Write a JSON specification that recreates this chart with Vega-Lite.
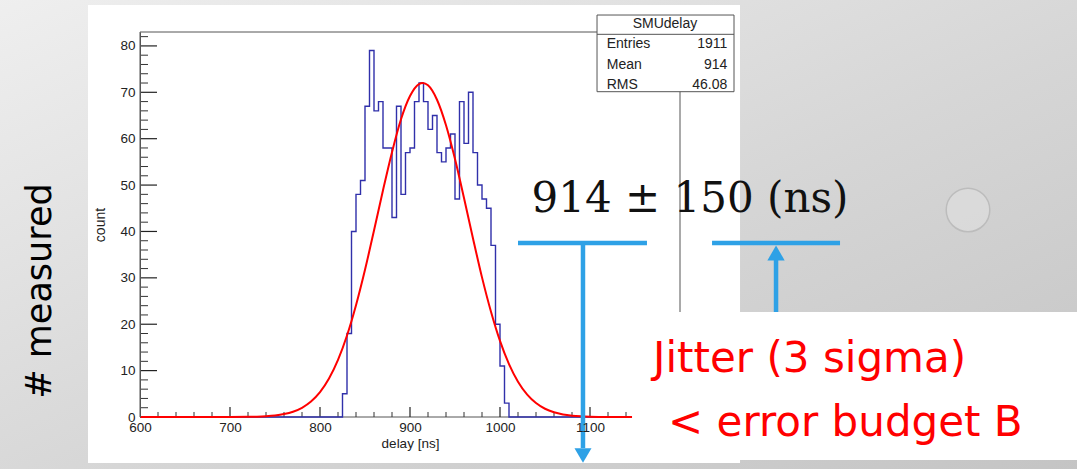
{
  "$schema": "https://vega.github.io/schema/vega-lite/v6.json",
  "width": 540,
  "height": 385,
  "autosize": {"type": "none"},
  "padding": {"left": 140, "top": 32, "right": 397, "bottom": 52},
  "background": "#d8d8d8",
  "config": {"view": {"stroke": null}},
  "datasets": {
    "hist": [
      {"delay": 600, "count": 0},
      {"delay": 825, "count": 5},
      {"delay": 830, "count": 18},
      {"delay": 835, "count": 40},
      {"delay": 840, "count": 48},
      {"delay": 845, "count": 51},
      {"delay": 850, "count": 67},
      {"delay": 855, "count": 79},
      {"delay": 860, "count": 66},
      {"delay": 865, "count": 68},
      {"delay": 870, "count": 58},
      {"delay": 875, "count": 58},
      {"delay": 880, "count": 43},
      {"delay": 885, "count": 67},
      {"delay": 890, "count": 48},
      {"delay": 895, "count": 57},
      {"delay": 900, "count": 58},
      {"delay": 905, "count": 68},
      {"delay": 910, "count": 72},
      {"delay": 915, "count": 68},
      {"delay": 920, "count": 62},
      {"delay": 925, "count": 65},
      {"delay": 930, "count": 57},
      {"delay": 935, "count": 55},
      {"delay": 940, "count": 58},
      {"delay": 945, "count": 61},
      {"delay": 950, "count": 47},
      {"delay": 955, "count": 68},
      {"delay": 960, "count": 59},
      {"delay": 965, "count": 70},
      {"delay": 970, "count": 57},
      {"delay": 975, "count": 50},
      {"delay": 980, "count": 47},
      {"delay": 985, "count": 45},
      {"delay": 990, "count": 37},
      {"delay": 995, "count": 20},
      {"delay": 1000, "count": 11},
      {"delay": 1005, "count": 3},
      {"delay": 1010, "count": 0},
      {"delay": 1200, "count": 0}
    ],
    "fit": [
      {"delay": 600, "fit": 0},
      {"delay": 650, "fit": 0},
      {"delay": 700, "fit": 0.01},
      {"delay": 720, "fit": 0.04},
      {"delay": 730, "fit": 0.08},
      {"delay": 740, "fit": 0.17},
      {"delay": 750, "fit": 0.33},
      {"delay": 760, "fit": 0.63},
      {"delay": 770, "fit": 1.14},
      {"delay": 780, "fit": 1.99},
      {"delay": 790, "fit": 3.33},
      {"delay": 800, "fit": 5.35},
      {"delay": 810, "fit": 8.28},
      {"delay": 820, "fit": 12.3},
      {"delay": 830, "fit": 17.56},
      {"delay": 840, "fit": 24.1},
      {"delay": 850, "fit": 31.74},
      {"delay": 860, "fit": 40.2},
      {"delay": 870, "fit": 48.9},
      {"delay": 880, "fit": 57.1},
      {"delay": 890, "fit": 64.2},
      {"delay": 900, "fit": 69.2},
      {"delay": 910, "fit": 71.77},
      {"delay": 914, "fit": 72},
      {"delay": 920, "fit": 71.5},
      {"delay": 930, "fit": 68.4},
      {"delay": 940, "fit": 62.9},
      {"delay": 950, "fit": 55.6},
      {"delay": 960, "fit": 47.2},
      {"delay": 970, "fit": 38.5},
      {"delay": 980, "fit": 30.1},
      {"delay": 990, "fit": 22.7},
      {"delay": 1000, "fit": 16.4},
      {"delay": 1010, "fit": 11.4},
      {"delay": 1020, "fit": 7.61},
      {"delay": 1030, "fit": 4.88},
      {"delay": 1040, "fit": 3.01},
      {"delay": 1050, "fit": 1.78},
      {"delay": 1060, "fit": 1.01},
      {"delay": 1070, "fit": 0.55},
      {"delay": 1080, "fit": 0.29},
      {"delay": 1090, "fit": 0.15},
      {"delay": 1100, "fit": 0.07},
      {"delay": 1120, "fit": 0.01},
      {"delay": 1150, "fit": 0},
      {"delay": 1200, "fit": 0}
    ],
    "xminor": [
      {"v": 620}, {"v": 640}, {"v": 660}, {"v": 680},
      {"v": 720}, {"v": 740}, {"v": 760}, {"v": 780},
      {"v": 820}, {"v": 840}, {"v": 860}, {"v": 880},
      {"v": 920}, {"v": 940}, {"v": 960}, {"v": 980},
      {"v": 1020}, {"v": 1040}, {"v": 1060}, {"v": 1080},
      {"v": 1120}, {"v": 1140}
    ],
    "xmajor": [
      {"v": 700}, {"v": 800}, {"v": 900}, {"v": 1000}, {"v": 1100}
    ],
    "yminor": [
      {"v": 2}, {"v": 4}, {"v": 6}, {"v": 8},
      {"v": 12}, {"v": 14}, {"v": 16}, {"v": 18},
      {"v": 22}, {"v": 24}, {"v": 26}, {"v": 28},
      {"v": 32}, {"v": 34}, {"v": 36}, {"v": 38},
      {"v": 42}, {"v": 44}, {"v": 46}, {"v": 48},
      {"v": 52}, {"v": 54}, {"v": 56}, {"v": 58},
      {"v": 62}, {"v": 64}, {"v": 66}, {"v": 68},
      {"v": 72}, {"v": 74}, {"v": 76}, {"v": 78},
      {"v": 82}
    ],
    "ymajor": [
      {"v": 10}, {"v": 20}, {"v": 30}, {"v": 40}, {"v": 50}, {"v": 60}, {"v": 70}, {"v": 80}
    ],
    "one": [{}]
  },
  "layer": [
    {
      "data": {"name": "one"},
      "mark": {"type": "rect", "fill": {"gradient": "linear", "x1": 0, "y1": 0, "x2": 1, "y2": 1, "stops": [{"offset": 0, "color": "#efefef"}, {"offset": 0.55, "color": "#d6d6d6"}, {"offset": 1, "color": "#c4c4c4"}]}},
      "encoding": {
        "x": {"datum": 440, "type": "quantitative", "scale": {"domain": [600, 1200], "nice": false, "zero": false}},
        "x2": {"datum": 1650},
        "y": {"datum": 91, "type": "quantitative", "scale": {"domain": [0, 83], "nice": false, "zero": false}},
        "y2": {"datum": -12}
      }
    },
    {
      "data": {"name": "one"},
      "mark": {"type": "point", "shape": "circle", "filled": true, "fill": "#dedede", "stroke": "#b4b4b4", "strokeWidth": 1.5, "size": 1900},
      "encoding": {
        "x": {"datum": 1520, "type": "quantitative"},
        "y": {"datum": 44.63, "type": "quantitative"}
      }
    },
    {
      "data": {"name": "one"},
      "mark": {"type": "rect", "fill": "#ffffff"},
      "encoding": {
        "x": {"datum": 542.2, "type": "quantitative"},
        "x2": {"datum": 1266.7},
        "y": {"datum": 88.82, "type": "quantitative"},
        "y2": {"datum": -9.92}
      }
    },
    {
      "data": {"name": "one"},
      "mark": {"type": "rect", "filled": false, "stroke": "#555555", "strokeWidth": 1},
      "encoding": {
        "x": {"datum": 600, "type": "quantitative"},
        "x2": {"datum": 1200},
        "y": {"datum": 0, "type": "quantitative"},
        "y2": {"datum": 83}
      }
    },
    {
      "data": {"name": "xminor"},
      "mark": {"type": "rule", "stroke": "#333333", "strokeWidth": 1},
      "encoding": {
        "x": {"field": "v", "type": "quantitative"},
        "y": {"datum": 0, "type": "quantitative"},
        "y2": {"datum": 1.08}
      }
    },
    {
      "data": {"name": "xmajor"},
      "mark": {"type": "rule", "stroke": "#222222", "strokeWidth": 1.2},
      "encoding": {
        "x": {"field": "v", "type": "quantitative"},
        "y": {"datum": 0, "type": "quantitative"},
        "y2": {"datum": 2.16}
      }
    },
    {
      "data": {"name": "yminor"},
      "mark": {"type": "rule", "stroke": "#333333", "strokeWidth": 1},
      "encoding": {
        "y": {"field": "v", "type": "quantitative"},
        "x": {"datum": 600, "type": "quantitative"},
        "x2": {"datum": 608.9}
      }
    },
    {
      "data": {"name": "ymajor"},
      "mark": {"type": "rule", "stroke": "#222222", "strokeWidth": 1.2},
      "encoding": {
        "y": {"field": "v", "type": "quantitative"},
        "x": {"datum": 600, "type": "quantitative"},
        "x2": {"datum": 618.9}
      }
    },
    {
      "data": {"name": "hist"},
      "mark": {"type": "line", "interpolate": "step-after", "stroke": "#3030aa", "strokeWidth": 1.4},
      "encoding": {
        "x": {
          "field": "delay", "type": "quantitative",
          "scale": {"domain": [600, 1200], "nice": false, "zero": false},
          "axis": {
            "title": "delay [ns]",
            "values": [600, 700, 800, 900, 1000, 1100],
            "format": "d",
            "ticks": false,
            "labelPadding": 3,
            "domain": false,
            "grid": false,
            "labelColor": "#222222",
            "labelFont": "Liberation Sans",
            "labelFontSize": 13.5,
            "labelFlush": false,
            "labelOverlap": false,
            "labelBound": false,
            "titleFont": "Liberation Sans",
            "titleFontSize": 13.5,
            "titleFontWeight": "normal",
            "titleColor": "#222222",
            "titlePadding": 3,
            "zindex": 1
          }
        },
        "y": {
          "field": "count", "type": "quantitative",
          "scale": {"domain": [0, 83], "nice": false, "zero": false},
          "axis": {
            "title": "count",
            "values": [0, 10, 20, 30, 40, 50, 60, 70, 80],
            "format": "d",
            "ticks": false,
            "labelPadding": 5,
            "domain": true,
            "domainColor": "#555555",
            "grid": false,
            "labelColor": "#222222",
            "labelFont": "Liberation Sans",
            "labelFontSize": 13.5,
            "labelFlush": false,
            "labelOverlap": false,
            "labelBound": false,
            "titleFont": "Liberation Sans",
            "titleFontSize": 14,
            "titleFontWeight": "normal",
            "titleColor": "#222222",
            "titlePadding": 12,
            "zindex": 1
          }
        }
      }
    },
    {
      "data": {"name": "fit"},
      "mark": {"type": "line", "interpolate": "monotone", "stroke": "#ff0000", "strokeWidth": 2},
      "encoding": {
        "x": {"field": "delay", "type": "quantitative"},
        "y": {"field": "fit", "type": "quantitative"}
      }
    },
    {
      "data": {"name": "one"},
      "mark": {"type": "rect", "fill": "#ffffff", "stroke": "#555555", "strokeWidth": 1},
      "encoding": {
        "x": {"datum": 1107.8, "type": "quantitative"},
        "x2": {"datum": 1260},
        "y": {"datum": 86.66, "type": "quantitative"},
        "y2": {"datum": 70.13}
      }
    },
    {
      "data": {"name": "one"},
      "mark": {"type": "rule", "stroke": "#555555", "strokeWidth": 1},
      "encoding": {
        "x": {"datum": 1107.8, "type": "quantitative"},
        "x2": {"datum": 1260},
        "y": {"datum": 82.5, "type": "quantitative"}
      }
    },
    {
      "data": {"name": "one"},
      "mark": {"type": "text", "text": "SMUdelay", "font": "Liberation Sans", "fontSize": 14, "fill": "#222222", "align": "center", "baseline": "middle"},
      "encoding": {
        "x": {"datum": 1183.3, "type": "quantitative"},
        "y": {"datum": 84.68, "type": "quantitative"}
      }
    },
    {
      "data": {"name": "one"},
      "mark": {"type": "text", "text": "Entries", "font": "Liberation Sans", "fontSize": 14, "fill": "#222222", "align": "left", "baseline": "middle"},
      "encoding": {
        "x": {"datum": 1118.6, "type": "quantitative"},
        "y": {"datum": 80.31, "type": "quantitative"}
      }
    },
    {
      "data": {"name": "one"},
      "mark": {"type": "text", "text": "Mean", "font": "Liberation Sans", "fontSize": 14, "fill": "#222222", "align": "left", "baseline": "middle"},
      "encoding": {
        "x": {"datum": 1118.6, "type": "quantitative"},
        "y": {"datum": 75.99, "type": "quantitative"}
      }
    },
    {
      "data": {"name": "one"},
      "mark": {"type": "text", "text": "RMS", "font": "Liberation Sans", "fontSize": 14, "fill": "#222222", "align": "left", "baseline": "middle"},
      "encoding": {
        "x": {"datum": 1118.6, "type": "quantitative"},
        "y": {"datum": 71.68, "type": "quantitative"}
      }
    },
    {
      "data": {"name": "one"},
      "mark": {"type": "text", "text": "1911", "font": "Liberation Sans", "fontSize": 14, "fill": "#222222", "align": "right", "baseline": "middle"},
      "encoding": {
        "x": {"datum": 1252.6, "type": "quantitative"},
        "y": {"datum": 80.31, "type": "quantitative"}
      }
    },
    {
      "data": {"name": "one"},
      "mark": {"type": "text", "text": "914", "font": "Liberation Sans", "fontSize": 14, "fill": "#222222", "align": "right", "baseline": "middle"},
      "encoding": {
        "x": {"datum": 1252.6, "type": "quantitative"},
        "y": {"datum": 75.99, "type": "quantitative"}
      }
    },
    {
      "data": {"name": "one"},
      "mark": {"type": "text", "text": "46.08", "font": "Liberation Sans", "fontSize": 14, "fill": "#222222", "align": "right", "baseline": "middle"},
      "encoding": {
        "x": {"datum": 1252.6, "type": "quantitative"},
        "y": {"datum": 71.68, "type": "quantitative"}
      }
    },
    {
      "data": {"name": "one"},
      "mark": {"type": "rect", "fill": "#ffffff"},
      "encoding": {
        "x": {"datum": 1146.7, "type": "quantitative"},
        "x2": {"datum": 1650},
        "y": {"datum": 22.64, "type": "quantitative"},
        "y2": {"datum": -9.27}
      }
    },
    {
      "data": {"name": "one"},
      "mark": {"type": "text", "text": "Jitter (3 sigma)", "font": "DejaVu Sans", "fontSize": 42, "fill": "#ff0000", "align": "left", "baseline": "alphabetic"},
      "encoding": {
        "x": {"datum": 1170, "type": "quantitative"},
        "y": {"datum": 9.77, "type": "quantitative"}
      }
    },
    {
      "data": {"name": "one"},
      "mark": {"type": "text", "text": "< error budget B", "font": "DejaVu Sans", "fontSize": 42, "fill": "#ff0000", "align": "left", "baseline": "alphabetic"},
      "encoding": {
        "x": {"datum": 1186.7, "type": "quantitative"},
        "y": {"datum": -4.1, "type": "quantitative"}
      }
    },
    {
      "data": {"name": "one"},
      "mark": {"type": "rule", "stroke": "#2ea1e6", "strokeWidth": 4.5},
      "encoding": {
        "x": {"datum": 1020, "type": "quantitative"},
        "x2": {"datum": 1163.3},
        "y": {"datum": 37.51, "type": "quantitative"}
      }
    },
    {
      "data": {"name": "one"},
      "mark": {"type": "rule", "stroke": "#2ea1e6", "strokeWidth": 4.5},
      "encoding": {
        "x": {"datum": 1235.6, "type": "quantitative"},
        "x2": {"datum": 1377.8},
        "y": {"datum": 37.51, "type": "quantitative"}
      }
    },
    {
      "data": {"name": "one"},
      "mark": {"type": "rule", "stroke": "#2ea1e6", "strokeWidth": 4.5},
      "encoding": {
        "x": {"datum": 1092.2, "type": "quantitative"},
        "y": {"datum": 37.51, "type": "quantitative"},
        "y2": {"datum": -6.68}
      }
    },
    {
      "data": {"name": "one"},
      "mark": {"type": "point", "shape": "triangle-down", "filled": true, "fill": "#2ea1e6", "strokeWidth": 0, "size": 289, "opacity": 1},
      "encoding": {
        "x": {"datum": 1092.2, "type": "quantitative"},
        "y": {"datum": -8.3, "type": "quantitative"}
      }
    },
    {
      "data": {"name": "one"},
      "mark": {"type": "rule", "stroke": "#2ea1e6", "strokeWidth": 4.5},
      "encoding": {
        "x": {"datum": 1306.7, "type": "quantitative"},
        "y": {"datum": 22.64, "type": "quantitative"},
        "y2": {"datum": 34.28}
      }
    },
    {
      "data": {"name": "one"},
      "mark": {"type": "point", "shape": "triangle-up", "filled": true, "fill": "#2ea1e6", "strokeWidth": 0, "size": 300, "opacity": 1},
      "encoding": {
        "x": {"datum": 1306.7, "type": "quantitative"},
        "y": {"datum": 35.36, "type": "quantitative"}
      }
    },
    {
      "data": {"name": "one"},
      "mark": {"type": "text", "text": "914 ± 150 (ns)", "font": "DejaVu Serif", "fontSize": 42, "fill": "#111111", "align": "center", "baseline": "alphabetic"},
      "encoding": {
        "x": {"datum": 1211.1, "type": "quantitative"},
        "y": {"datum": 44.26, "type": "quantitative"}
      }
    },
    {
      "data": {"name": "one"},
      "mark": {"type": "text", "text": "# measured", "font": "DejaVu Sans", "fontSize": 35, "fill": "#000000", "align": "center", "baseline": "middle", "angle": 270},
      "encoding": {
        "x": {"datum": 488.9, "type": "quantitative"},
        "y": {"datum": 27.16, "type": "quantitative"}
      }
    }
  ]
}
